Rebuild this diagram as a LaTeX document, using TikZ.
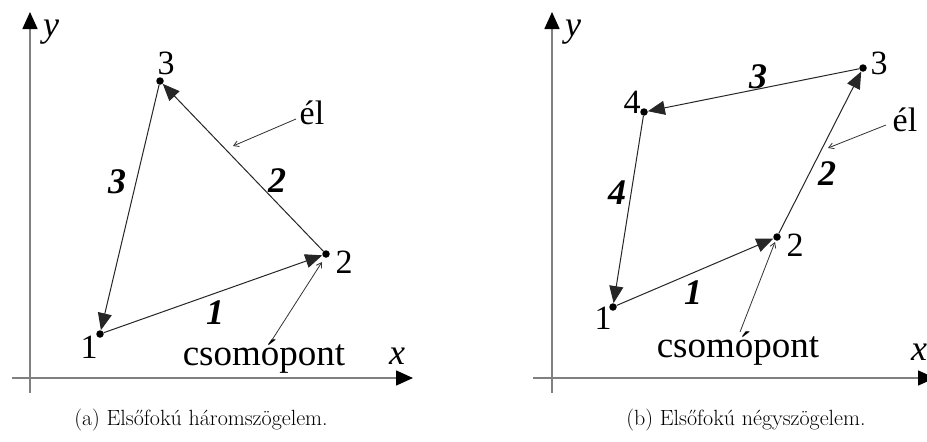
\documentclass[tikz,border=0pt]{standalone}
\usepackage{fontspec}
\newfontfamily\tfont{Liberation Serif}
\usetikzlibrary{arrows.meta}
\tikzset{
  axisline/.style={draw=black!50, line width=1.6pt, -{Triangle[length=17pt,width=15pt,fill=black,color=black]}},
  edgeline/.style={draw=black!85, line width=1pt, -{Triangle[length=17pt,width=14pt]}},
  pointer/.style={draw=black!80, line width=0.8pt, -{Straight Barb[length=5pt,width=6pt]}},
  dot/.style={circle, fill=black, inner sep=0pt, minimum size=7.5pt},
  nlab/.style={font=\tfont\fontsize{34}{34}\selectfont, inner sep=0pt},
  elab/.style={font=\tfont\bfseries\itshape\fontsize{36}{36}\selectfont, inner sep=0pt},
  axlab/.style={font=\tfont\itshape\fontsize{36}{36}\selectfont, inner sep=0pt},
  word/.style={font=\tfont\fontsize{37}{37}\selectfont, inner sep=0pt, anchor=base},
  word2/.style={font=\tfont\fontsize{34}{34}\selectfont, inner sep=0pt},
  caption/.style={font=\fontsize{22}{22}\selectfont, inner sep=0pt, anchor=base}
}
\begin{document}
\begin{tikzpicture}[x=1pt,y=-1pt]
\clip (0,0) rectangle (927,442);
\fill[white] (0,0) rectangle (927,442);
% ---------- panel (a) ----------
\coordinate (ay0) at (30,393);
\coordinate (ay1) at (30,12);
\coordinate (ax0) at (12,378);
\coordinate (ax1) at (413,378);
\draw[axisline] (ay0) -- (ay1);
\draw[axisline] (ax0) -- (ax1);
\node[axlab] (aylab) at (51,32) {y};
\node[axlab] (axlab) at (397,356) {x};

\node[dot] (a1) at (100,334) {};
\node[dot] (a2) at (326,254) {};
\node[dot] (a3) at (160,81) {};
\node[nlab] (a1l) at (89,347) {1};
\node[nlab] (a2l) at (344,262) {2};
\node[nlab] (a3l) at (166,63) {3};

\draw[edgeline] (a1) -- (a2);
\draw[edgeline] (a2) -- (a3);
\draw[edgeline] (a3) -- (a1);
\node[elab] (ae1) at (215,313) {1};
\node[elab] (ae2) at (277,181) {2};
\node[elab] (ae3) at (117,182) {3};

\node[word2] (ael) at (312,113) {él};
\coordinate (aelA) at (296,119);
\coordinate (aelB) at (233,146);
\draw[pointer] (aelA) -- (aelB);
\node[word] (acs) at (264,365) {csomópont};
\coordinate (acsA) at (272,340);
\coordinate (acsB) at (322,262);
\draw[pointer] (acsA) -- (acsB);

\node[caption] (capa) at (201,425) {(a) Elsőfokú háromszögelem.};

% ---------- panel (b) ----------
\coordinate (by0) at (552,393);
\coordinate (by1) at (552,12);
\coordinate (bx0) at (533,378);
\coordinate (bx1) at (935,378);
\draw[axisline] (by0) -- (by1);
\draw[axisline] (bx0) -- (bx1);
\node[axlab] (bylab) at (573,32) {y};
\node[axlab] (bxlab) at (919,352) {x};

\node[dot] (b1) at (613,307) {};
\node[dot] (b2) at (777,237) {};
\node[dot] (b3) at (863,68) {};
\node[dot] (b4) at (644,112) {};
\node[nlab] (b1l) at (603,318) {1};
\node[nlab] (b2l) at (795,245) {2};
\node[nlab] (b3l) at (879,63) {3};
\node[nlab] (b4l) at (632,102) {4};

\draw[edgeline] (b1) -- (b2);
\draw[edgeline] (b2) -- (b3);
\draw[edgeline] (b3) -- (b4);
\draw[edgeline] (b4) -- (b1);
\node[elab] (be1) at (693,293) {1};
\node[elab] (be2) at (827,174) {2};
\node[elab] (be3) at (758,77) {3};
\node[elab] (be4) at (617,193) {4};

\node[word2] (bel) at (905,120) {él};
\coordinate (belA) at (886,125);
\coordinate (belB) at (828,148);
\draw[pointer] (belA) -- (belB);
\node[word] (bcs) at (738,357) {csomópont};
\coordinate (bcsA) at (740,332);
\coordinate (bcsB) at (775,242);
\draw[pointer] (bcsA) -- (bcsB);

\node[caption] (capb) at (746,425) {(b) Elsőfokú négyszögelem.};
\end{tikzpicture}
\end{document}
